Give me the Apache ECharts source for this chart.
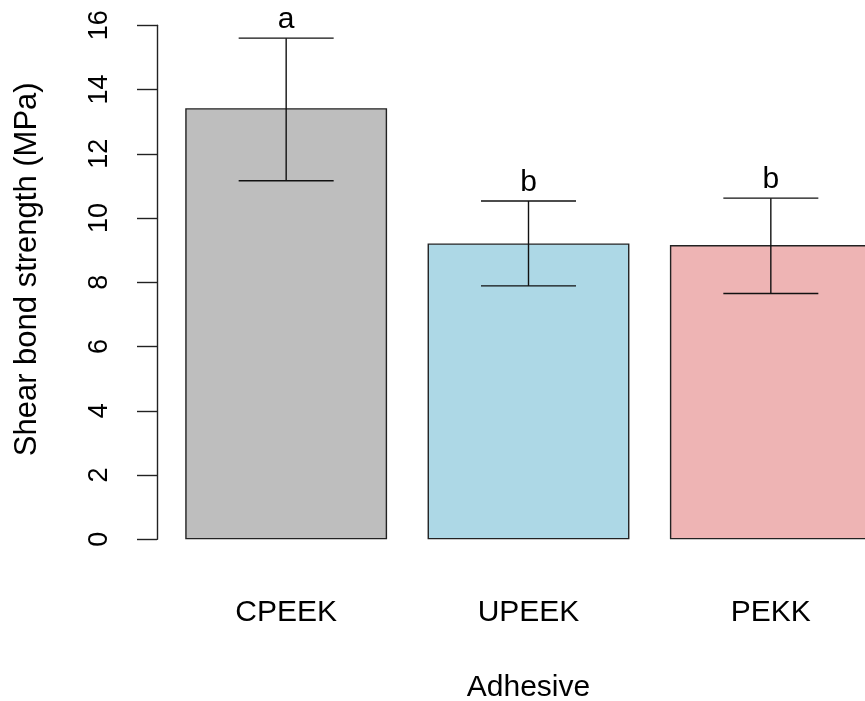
<!DOCTYPE html>
<html>
<head>
<meta charset="utf-8">
<script src="https://cdn.jsdelivr.net/npm/echarts@6/dist/echarts.min.js"></script>
<style>
html,body{margin:0;padding:0;background:#fff;}
#chart{width:865px;height:701px;}
</style>
</head>
<body>
<div id="chart"></div>
<script>
const categories = ['CPEEK', 'UPEEK', 'PEKK'];
const means = [13.42, 9.21, 9.16];
const errLow = [11.16, 7.89, 7.65];
const errHigh = [15.60, 10.53, 10.62];
const letters = ['a', 'b', 'b'];
const barColors = ['#BEBEBE', '#ADD8E6', '#EEB4B4'];
const yTicks = [0, 2, 4, 6, 8, 10, 12, 14, 16];

const FONT = '"Liberation Sans", Arial, sans-serif';
const chart = echarts.init(document.getElementById('chart'), null, {renderer: 'canvas'});

const option = {
  backgroundColor: '#ffffff',
  animation: false,
  grid: {left: 165, right: -27, top: 25.3, bottom: 161.7, containLabel: false, outerBoundsMode: 'none'},
  xAxis: {
    type: 'category',
    data: categories,
    axisLine: {show: false},
    axisTick: {show: false},
    axisLabel: {
      fontFamily: FONT, fontSize: 30, color: '#000', margin: 58, lineHeight: 30
    },
    name: 'Adhesive',
    nameLocation: 'middle',
    nameGap: 133,
    nameTextStyle: {fontFamily: FONT, fontSize: 30, color: '#000', lineHeight: 30}
  },
  yAxis: {
    type: 'value',
    min: yTicks[0],
    max: yTicks[yTicks.length - 1],
    interval: 2,
    offset: 8,
    splitLine: {show: false},
    axisLine: {show: true, lineStyle: {color: '#222', width: 1.4}},
    axisTick: {show: true, length: 20, lineStyle: {color: '#222', width: 1.4}},
    axisLabel: {
      rotate: 90, fontFamily: FONT, fontSize: 27, color: '#000', margin: 44, lineHeight: 27
    },
    name: 'Shear bond strength (MPa)',
    nameLocation: 'middle',
    nameRotate: 90,
    nameGap: 114,
    nameTextStyle: {fontFamily: FONT, fontSize: 31, color: '#000', lineHeight: 31, padding: [0, 0, 0, 26]}
  },
  series: [
    {
      type: 'bar',
      data: means.map((v, i) => ({value: v, itemStyle: {color: barColors[i]}})),
      barCategoryGap: '16.7%',
      itemStyle: {borderColor: '#222', borderWidth: 1.4},
      z: 2
    },
    {
      type: 'custom',
      z: 5,
      clip: false,
      data: categories.map((c, i) => [i, errLow[i], errHigh[i]]),
      renderItem: function (params, api) {
        const idx = api.value(0);
        const lo = api.coord([idx, api.value(1)]);
        const hi = api.coord([idx, api.value(2)]);
        const half = api.size([1, 0])[0] * 0.196;
        const st = {stroke: '#111', lineWidth: 1.4};
        return {
          type: 'group',
          children: [
            {type: 'line', shape: {x1: hi[0], y1: hi[1], x2: lo[0], y2: lo[1]}, style: st},
            {type: 'line', shape: {x1: hi[0] - half, y1: hi[1], x2: hi[0] + half, y2: hi[1]}, style: st},
            {type: 'line', shape: {x1: lo[0] - half, y1: lo[1], x2: lo[0] + half, y2: lo[1]}, style: st},
            {type: 'text', style: {
              text: letters[params.dataIndex], x: hi[0], y: hi[1] - 3,
              textAlign: 'center', textVerticalAlign: 'bottom', verticalAlign: 'bottom', align: 'center',
              font: '30px "Liberation Sans", Arial, sans-serif', fill: '#000'
            }}
          ]
        };
      }
    }
  ]
};
chart.setOption(option);
</script>
</body>
</html>
